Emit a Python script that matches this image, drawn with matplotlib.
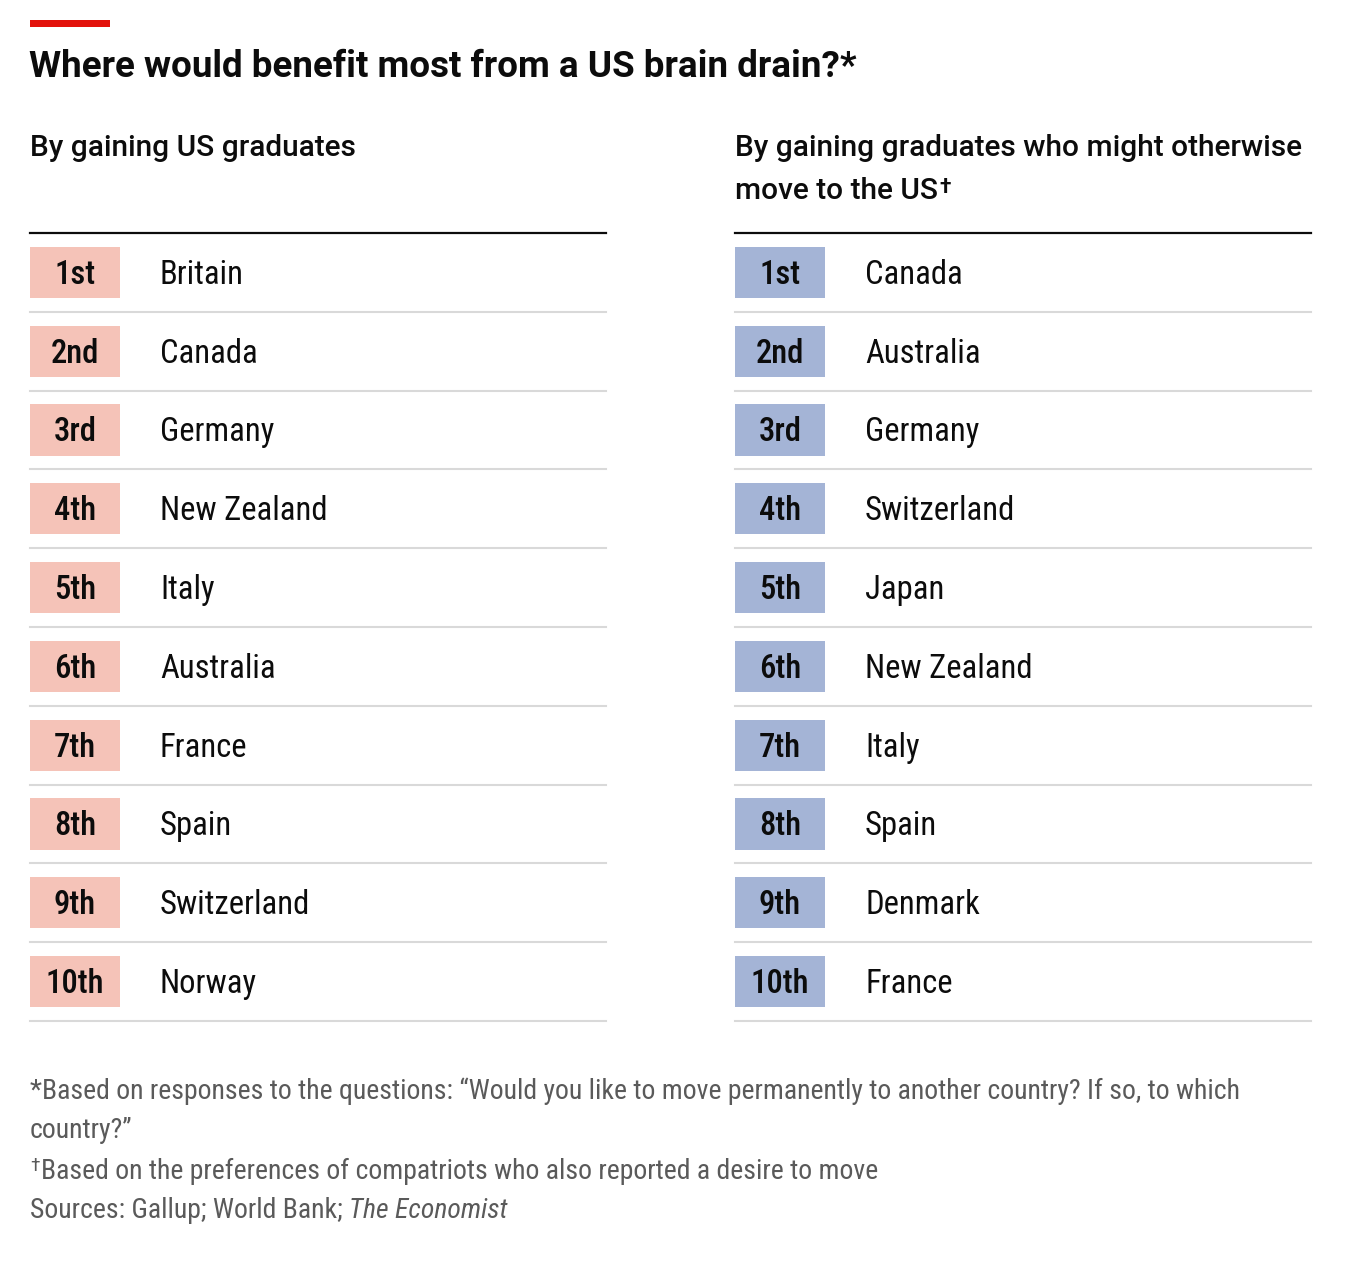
import matplotlib
matplotlib.use("Agg")
import numpy as np
import matplotlib.pyplot as plt

# data
ranks = ["1st", "2nd", "3rd", "4th", "5th", "6th", "7th", "8th", "9th", "10th"]
us_grads = ["Britain", "Canada", "Germany", "New Zealand", "Italy",
            "Australia", "France", "Spain", "Switzerland", "Norway"]
other_grads = ["Canada", "Australia", "Germany", "Switzerland", "Japan",
               "New Zealand", "Italy", "Spain", "Denmark", "France"]

title = "Where would benefit most from a US brain drain?*"
left_head = "By gaining US graduates"
right_head = ["By gaining graduates who might otherwise", "move to the US"]
notes = ["*Based on responses to the questions: \u201cWould you like to move permanently "
         "to another country? If so, to which",
         "country?\u201d",
         "Based on the preferences of compatriots who also reported a desire to move"]
source = "Sources: Gallup; World Bank; "
source_it = "The Economist"

WIDE = ["Roboto", "Liberation Sans", "DejaVu Sans"]
NARROW = ["Roboto Condensed", "Liberation Sans", "DejaVu Sans"]
plt.rcParams["font.family"] = WIDE

RED = "#e3120b"
PINK = "#f5c3b8"
BLUE = "#a4b4d6"
GRID = "#d9d9d9"
INK = "#0c0c0c"
GREY = "#5a5a5a"

W, H = 1360, 1268
fig = plt.figure(figsize=(W / 100, H / 100), dpi=100)
fig.patch.set_facecolor("white")


def px(x, y):
    # pixel position (from top left) to figure fraction
    return x / W, 1 - y / H


# red tag and title
fig.patches.append(plt.Rectangle(px(30, 27), 80 / W, 7 / H, transform=fig.transFigure,
                                 color=RED, lw=0))
fig.text(*px(29, 77), title, fontsize=26.5, weight="bold", color=INK, va="baseline")


def table(x0, names, colour, head):
    ax = fig.add_axes([x0 / W, 1 - 1021 / H, 576 / W, 788 / H])
    ax.set_xlim(0, 576)
    ax.set_ylim(len(names) + 0.5, 0.5)
    ax.axis("off")
    y = np.arange(1, len(names) + 1)
    ax.barh(y, 90, height=0.65, left=0, color=colour, lw=0)
    for yy, r, n in zip(y, ranks, names):
        ax.text(45, yy + 0.145, r, ha="center", va="baseline", fontsize=23.5,
                weight="medium", family=NARROW, color=INK)
        ax.text(130, yy + 0.145, n, ha="left", va="baseline", fontsize=23.5,
                family=NARROW, color=INK)
    ax.axhline(0.5, color=INK, lw=1.6, clip_on=False)
    for yy in y:
        ax.axhline(yy + 0.5, color=GRID, lw=1.5, clip_on=False)
    heads = []
    for i, h in enumerate(head):
        heads.append(fig.text(*px(x0, 156 + 43 * i), h, fontsize=21.5, weight="medium",
                              color=INK, va="baseline"))
    return heads


table(30, us_grads, PINK, [left_head])
rh = table(735, other_grads, BLUE, right_head)
plt.annotate("\u2020", xy=(1, 1), xycoords=rh[-1], xytext=(1, -1),
             textcoords="offset points", fontsize=15, weight="bold",
             color=INK, ha="left", va="top")

# footnotes
foot = dict(fontsize=20, color=GREY, va="baseline", family=NARROW)
fig.text(*px(30, 1099), notes[0], **foot)
fig.text(*px(30, 1138), notes[1], **foot)
fig.text(*px(30, 1171), "\u2020", **dict(foot, fontsize=14))
fig.text(*px(41, 1179), notes[2], **foot)
src = fig.text(*px(30, 1218), source, **foot)
plt.annotate(source_it, xy=(1, 0), xycoords=src, fontsize=20, color=GREY,
             family=NARROW, style="italic", ha="left", va="bottom")

plt.savefig("out.png", dpi=100, facecolor="white")
